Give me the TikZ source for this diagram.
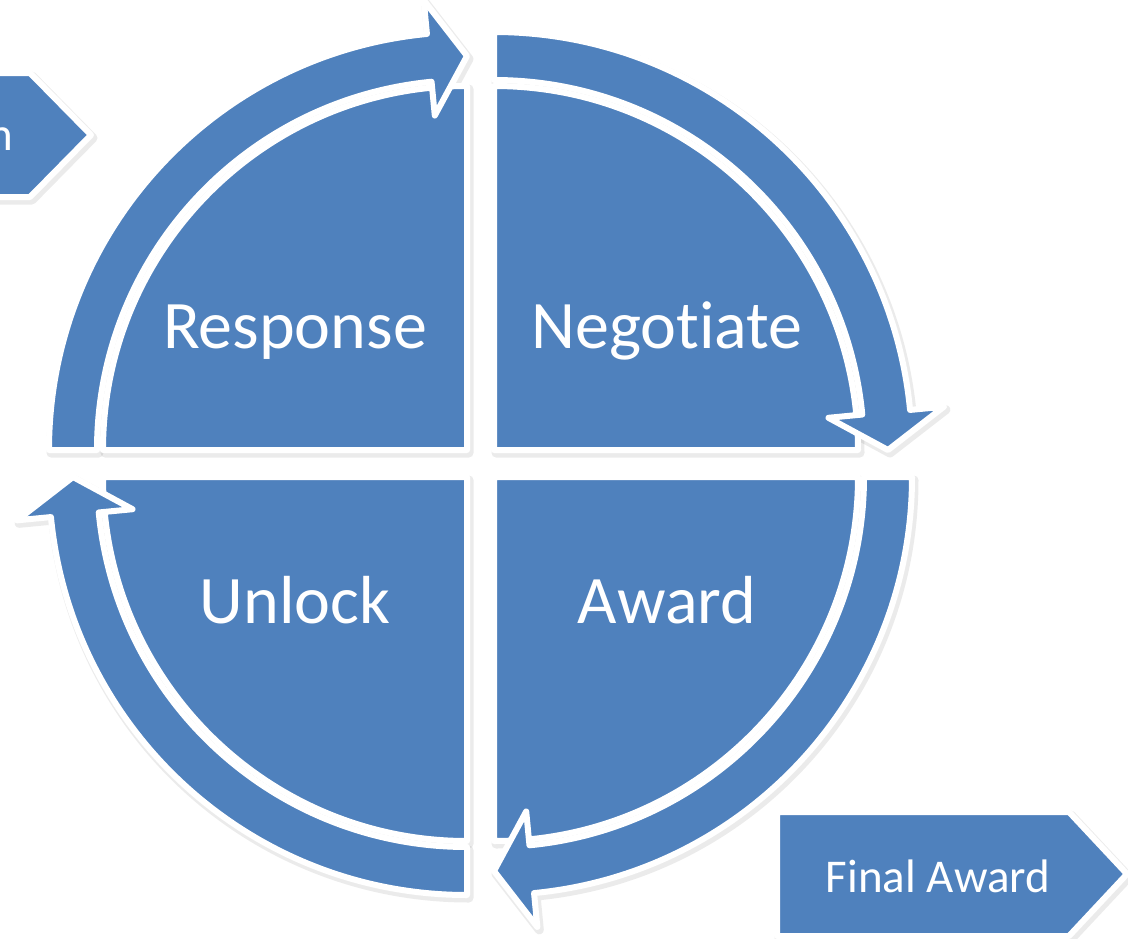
\documentclass[tikz,border=0pt]{standalone}
\usepackage{fontspec}
\setmainfont{Carlito}[Ligatures={NoCommon,NoContextual}]
\usepackage{tikz}
\usetikzlibrary{calc}
\definecolor{segblue}{RGB}{79,129,189}

\tikzset{
  segment/.style={fill=segblue, draw=white, line width=6pt, line join=round},
  shadowed/.style={draw=black, line width=9pt, line join=round, opacity=0.08,
    transform canvas={shift={(2pt,-3pt)}}},
  seglabel/.style={text=white, font=\fontsize{68}{80}\selectfont, inner sep=0pt, anchor=base},
  taglabel/.style={text=white, font=\fontsize{47}{56}\selectfont, inner sep=0pt, anchor=base},
}

\begin{document}
\begin{tikzpicture}[x=1pt, y=1pt]

  \useasboundingbox (0,0) rectangle (1128,-938);
  \clip (0,0) rectangle (1128,-938);

  % corners of the four segments
  \coordinate (c_R) at (467,-450);
  \coordinate (c_N) at (494,-450);
  \coordinate (c_A) at (494,-477);
  \coordinate (c_U) at (467,-477);

  % shadows first, then the blue shapes
  \foreach \sty in {shadowed, segment} {
    \foreach \c/\a in {c_R/180, c_N/90, c_A/0, c_U/270} {
      \pgfmathsetmacro{\b}{\a-90}
      \pgfmathsetmacro{\h}{\a-84.5}
      % quarter disc
      \path[\sty] (\c) -- ($(\c)+(\b:364)$) arc[start angle=\b, end angle=\a, radius=364] -- cycle;
      % curved arrow round it
      \path[\sty] ($(\c)+(\a:418)$) arc[start angle=\a, end angle=\h, radius=418]
        -- ($(\c)+(\h:452)$) -- ($(\c)+(\b:394)$) -- ($(\c)+(\h:336)$)
        -- ($(\c)+(\h:370)$) arc[start angle=\h, end angle=\a, radius=370] -- cycle;
    }
    % chevrons
    \path[\sty] (-60,-73) -- (30,-73) -- (91,-135) -- (30,-197) -- (-60,-197) -- cycle;
    \path[\sty] (777,-812) -- (1069,-812) -- (1127,-874) -- (1069,-936) -- (777,-936) -- cycle;
  }

  \node[seglabel] (resp) at (295,-348) {Response};
  \node[seglabel] (nego) at (667,-348) {Negotiate};
  \node[seglabel] (unlock) at (295,-623) {Unlock};
  \node[seglabel] (award) at (667,-623) {Award};

  \node[taglabel, anchor=base east] (prev) at (13,-150) {n};
  \node[taglabel] (final) at (938,-892) {Final Award};

\end{tikzpicture}
\end{document}
